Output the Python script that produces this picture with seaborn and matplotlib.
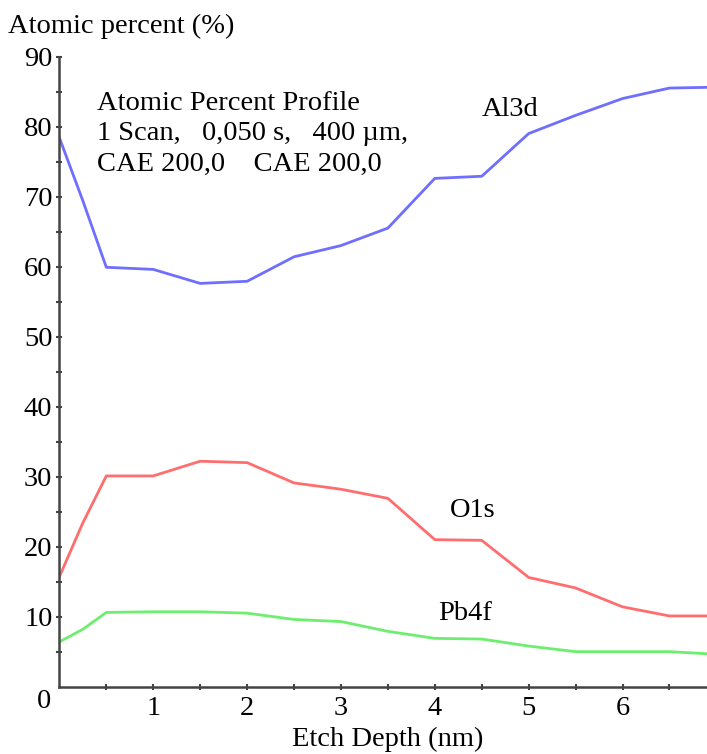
import numpy as np
import pandas as pd
import matplotlib
matplotlib.use("Agg")
import matplotlib.pyplot as plt
import seaborn as sns

depth = [0, 0.25, 0.5, 1.0, 1.5, 2.0, 2.5, 3.0, 3.5, 4.0, 4.5, 5.0, 5.5, 6.0, 6.5, 6.9]
al3d = [78.4, 69.4, 59.9, 59.6, 57.6, 57.9, 61.4, 63.0, 65.5, 72.6, 72.9, 79.0, 81.6, 84.0, 85.5, 85.6]
o1s = [15.7, 23.4, 30.1, 30.1, 32.2, 32.0, 29.1, 28.2, 26.9, 21.0, 20.9, 15.6, 14.1, 11.4, 10.1, 10.1]
pb4f = [6.4, 8.2, 10.6, 10.7, 10.7, 10.5, 9.6, 9.3, 7.9, 6.9, 6.8, 5.8, 5.0, 5.0, 5.0, 4.7]
series_names = ["Al3d", "O1s", "Pb4f"]
series_colors = ["#6e6eff", "#ff6e6e", "#6eee6e"]
x_ticks = [1, 2, 3, 4, 5, 6]
y_ticks = [10, 20, 30, 40, 50, 60, 70, 80, 90]

df = pd.DataFrame({
    "depth": depth * 3,
    "value": al3d + o1s + pb4f,
    "element": [series_names[0]] * len(depth) + [series_names[1]] * len(depth) + [series_names[2]] * len(depth),
})

sns.set_style("ticks")
plt.rcParams["font.family"] = ["Liberation Serif", "DejaVu Serif"]
plt.rcParams["text.color"] = "black"

FS = 20.5

fig = plt.figure(figsize=(7.07, 7.54), dpi=100)
ax = fig.add_axes([0.084, 0.0893, 0.916, 0.8357])

sns.lineplot(data=df, x="depth", y="value", hue="element",
             palette=dict(zip(series_names, series_colors)),
             linewidth=2, legend=False, ax=ax)

ax.set_xlim(0, 6.9)
ax.set_ylim(0, 90)
ax.set_xticks(x_ticks)
ax.set_xticklabels([str(t) for t in x_ticks])
ax.set_yticks(y_ticks)
ax.set_yticklabels([str(t) for t in y_ticks])
ax.set_xticks(np.arange(0.5, 6.9, 1.0), minor=True)
ax.set_yticks(np.arange(5, 90, 10), minor=True)
for side in ["top", "right"]:
    ax.spines[side].set_visible(False)
for side in ["left", "bottom"]:
    ax.spines[side].set_color("#444444")
    ax.spines[side].set_linewidth(1.8)
ax.tick_params(which="both", direction="inout", length=4, width=1.5, color="#444444",
               labelsize=FS, labelcolor="black")
ax.tick_params(axis="x", pad=5)
ax.tick_params(axis="y", pad=3)
ax.set_xlabel("")
ax.set_ylabel("")

fig.text(8 / 707, 1 - 26 / 754, "Atomic percent (%)", fontsize=FS, va="center", ha="left")
fig.text(388 / 707, 1 - 739 / 754, "Etch Depth (nm)", fontsize=FS, va="center", ha="center")
fig.text(44 / 707, 1 - 702 / 754, "0", fontsize=FS, va="center", ha="center")

ax.text(0.4, 78.95, "Atomic Percent Profile\n1 Scan,   0,050 s,   400 \u00b5m,\nCAE 200,0    CAE 200,0",
        fontsize=FS, va="center", ha="left", linespacing=1.31)
ax.text(4.5, 82.4, "Al3d", fontsize=FS, va="center", ha="left")
ax.text(4.16, 25.2, "O1s", fontsize=FS, va="center", ha="left")
ax.text(4.04, 10.5, "Pb4f", fontsize=FS, va="center", ha="left")

fig.savefig("out.png", dpi=100)
